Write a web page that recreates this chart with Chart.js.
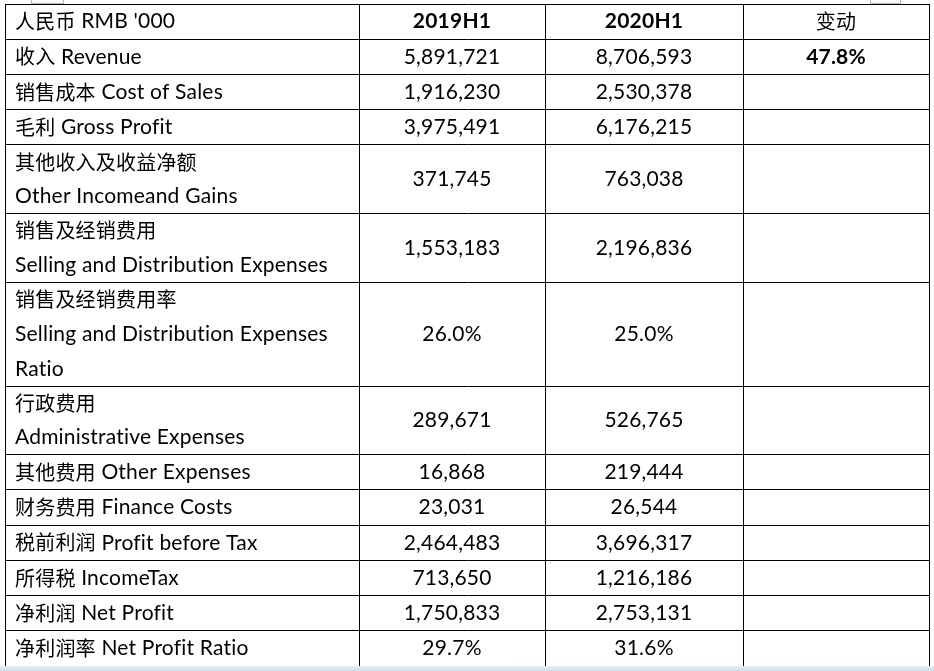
<!DOCTYPE html>
<html>
<head>
<meta charset="utf-8">
<title>2020H1 vs 2019H1</title>
<script src="https://cdn.jsdelivr.net/npm/chart.js@4"></script>
<style>
  html, body { margin: 0; padding: 0; background: #fff; }
  #wrap { position: relative; width: 934px; height: 671px; overflow: hidden; }
  #strip { position: absolute; left: 0; top: 666px; width: 934px; height: 5px;
           background: linear-gradient(#e6edf5, #d3dfec); }
  .tab { position: absolute; top: -1px; height: 4px; border: 1px solid #b9b9b9; border-top: none; background: #fafafa; }
</style>
</head>
<body>
<div id="wrap">
  <div class="tab" style="left:31px;width:31px"></div>
  <div class="tab" style="left:870px;width:29px"></div>
  <canvas id="table"></canvas>
  <div id="strip"></div>
</div>
<script>
// Income statement extract, RMB '000 — drawn as a grid on two linear scales

const unitLabel = "人民币 RMB '000";
const periods = ['2019H1', '2020H1'];
const changeLabel = '变动';

const items = [
  ['收入 Revenue'],
  ['销售成本 Cost of Sales'],
  ['毛利 Gross Profit'],
  ['其他收入及收益净额', 'Other Incomeand Gains'],
  ['销售及经销费用', 'Selling and Distribution Expenses'],
  ['销售及经销费用率', 'Selling and Distribution Expenses', 'Ratio'],
  ['行政费用', 'Administrative Expenses'],
  ['其他费用 Other Expenses'],
  ['财务费用 Finance Costs'],
  ['税前利润 Profit before Tax'],
  ['所得税 IncomeTax'],
  ['净利润 Net Profit'],
  ['净利润率 Net Profit Ratio']
];

// ratios are kept as fractions and printed as percentages
const values2019 = [5891721, 1916230, 3975491, 371745, 1553183, 0.260, 289671, 16868, 23031, 2464483, 713650, 1750833, 0.297];
const values2020 = [8706593, 2530378, 6176215, 763038, 2196836, 0.250, 526765, 219444, 26544, 3696317, 1216186, 2753131, 0.316];
const change = [0.478, null, null, null, null, null, null, null, null, null, null, null, null];

// layout
const colWidths = [354, 186, 198, 186];
const LATIN = '21px "Lato", sans-serif';
const CJK = '20px "Noto Sans CJK SC", sans-serif';

const colEdges = [0];
colWidths.forEach(w => colEdges.push(colEdges[colEdges.length - 1] + w));

// row heights in "text line" units (multi-line cells are a touch tighter)
const rowLines = [1].concat(items.map(l => l.length));
const rowUnits = rowLines.map(n => n === 1 ? 1 : n - 0.05);
const rowEdges = [0];
rowUnits.forEach(u => rowEdges.push(rowEdges[rowEdges.length - 1] + u));

function fmt(v) {
  if (v === null || v === undefined) return '';
  if (Math.abs(v) < 1) return (v * 100).toFixed(1) + '%';
  return v.toLocaleString('en-US');
}

// draw mixed Chinese / Latin text as runs with their own font
function drawRuns(ctx, txt, px, py, align, bold) {
  const runs = txt.split(/([\u3000-\u9fff]+)/).filter(s => s.length);
  const fonts = runs.map(s => (bold ? 'bold ' : '') + (/[\u3000-\u9fff]/.test(s) ? CJK : LATIN));
  const widths = runs.map((s, i) => { ctx.font = fonts[i]; return ctx.measureText(s).width; });
  const total = widths.reduce((a, b) => a + b, 0);
  let cx = align === 'center' ? px - total / 2 : px;
  ctx.textAlign = 'left';
  runs.forEach((s, i) => {
    ctx.font = fonts[i];
    ctx.fillText(s, cx, py);
    cx += widths[i];
  });
}

const cellText = {
  id: 'cellText',
  afterDraw(chart) {
    const { ctx, scales: { x, y } } = chart;
    const colMid = i => x.getPixelForValue((colEdges[i] + colEdges[i + 1]) / 2);
    const rowMid = r => y.getPixelForValue((rowEdges[r] + rowEdges[r + 1]) / 2);
    ctx.save();
    ctx.fillStyle = '#000';
    ctx.textBaseline = 'middle';
    if ('letterSpacing' in ctx) ctx.letterSpacing = '0.2px';   // also stops the fi ligature
    const left = x.getPixelForValue(colEdges[0]) + 10;

    // header row
    drawRuns(ctx, unitLabel, left, rowMid(0), 'left', false);
    periods.forEach((p, i) => drawRuns(ctx, p, colMid(i + 1), rowMid(0), 'center', true));
    drawRuns(ctx, changeLabel, colMid(3), rowMid(0), 'center', false);

    items.forEach((lines, i) => {
      const r = i + 1;
      const u = rowUnits[r] / lines.length;
      lines.forEach((t, k) => {
        drawRuns(ctx, t, left, y.getPixelForValue(rowEdges[r] + (k + 0.5) * u), 'left', false);
      });
      drawRuns(ctx, fmt(values2019[i]), colMid(1), rowMid(r), 'center', false);
      drawRuns(ctx, fmt(values2020[i]), colMid(2), rowMid(r), 'center', false);
      drawRuns(ctx, fmt(change[i]), colMid(3), rowMid(r), 'center', true);
    });
    ctx.restore();
  }
};

const gridScale = (edges, reverse) => ({
  type: 'linear',
  min: edges[0],
  max: edges[edges.length - 1],
  reverse,
  afterBuildTicks: s => { s.ticks = edges.map(v => ({ value: v })); },
  ticks: { display: false },
  grid: { color: '#000', lineWidth: 1, drawTicks: false },
  border: { display: true, color: '#000', width: 1 }
});

const canvas = document.getElementById('table');
canvas.width = 934;
canvas.height = 671;

new Chart(canvas, {
  type: 'scatter',
  data: { datasets: [{ data: [], pointRadius: 0 }] },
  options: {
    responsive: false,
    animation: false,
    devicePixelRatio: 1,
    layout: { padding: { left: 5, top: 4, right: 5, bottom: 5 } },
    plugins: { legend: { display: false }, tooltip: { enabled: false } },
    scales: {
      x: gridScale(colEdges, false),
      y: gridScale(rowEdges, true)
    }
  },
  plugins: [cellText]
});
</script>
</body>
</html>
